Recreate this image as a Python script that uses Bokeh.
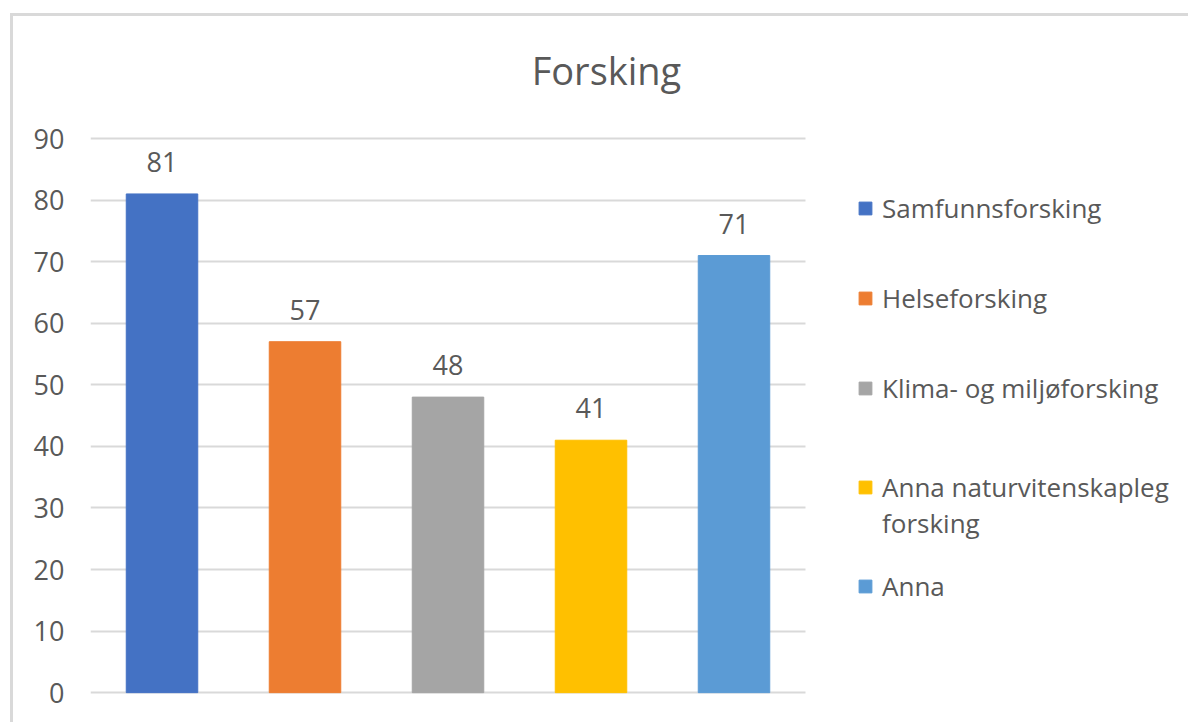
from bokeh.plotting import figure
from bokeh.models import ColumnDataSource, LabelSet, Label, Legend, LegendItem, Range1d, FixedTicker
from bokeh.core.properties import value
from bokeh.embed import file_html
from bokeh.resources import INLINE

categories = ["Samfunnsforsking", "Helseforsking", "Klima- og miljøforsking",
              "Anna naturvitenskapleg forsking", "Anna"]
legend_labels = ["Samfunnsforsking", "Helseforsking", "Klima- og miljøforsking",
                 "\nAnna naturvitenskapleg\nforsking", "Anna"]
values = [81, 57, 48, 41, 71]
colors = ["#4472C4", "#ED7D31", "#A5A5A5", "#FFC000", "#5B9BD5"]
y_ticks = [0, 10, 20, 30, 40, 50, 60, 70, 80, 90]
title_text = "Forsking"

FONT = "Open Sans"
GREY = "#595959"

positions = [i + 0.5 for i in range(len(categories))]
src = ColumnDataSource(dict(x=positions, cat=categories, val=values, color=colors,
                            lab=[str(v) for v in values]))

# frame spans page x 90..1188 (143 px per category) and y 0..694
p = figure(width=1188, height=722, x_range=Range1d(0, 1098 / 143),
           y_range=Range1d(-0.3, 112.42),
           output_backend="svg", toolbar_location=None, x_axis_location=None,
           min_border_left=90, min_border_right=0, min_border_top=0,
           min_border_bottom=28)
p.border_fill_color = None
p.background_fill_color = None
p.outline_line_color = None
p.styles = {"box-shadow": "inset 10px 13px 0 0 #ffffff, inset 13px 16px 0 0 #d9d9d9"}

r = p.vbar(x="x", top="val", width=0.5, color="color", source=src)

p.xgrid.grid_line_color = None
grid = p.ygrid[0]
if "cross_bounds" in grid.properties():
    grid.ticker = FixedTicker(ticks=y_ticks)
    grid.grid_line_color = "#d9d9d9"
    grid.grid_line_width = 2
    grid.cross_bounds = (0, len(categories))
else:
    grid.grid_line_color = None
    p.segment(x0=[0] * len(y_ticks), x1=[len(categories)] * len(y_ticks),
              y0=y_ticks, y1=y_ticks, line_color="#d9d9d9", line_width=2,
              level="underlay")

p.yaxis.ticker = FixedTicker(ticks=y_ticks)
p.yaxis.axis_line_color = None
p.yaxis.major_tick_line_color = None
p.yaxis.minor_tick_line_color = None
p.yaxis.major_tick_out = 0
p.yaxis.major_tick_in = 0
p.yaxis.major_label_standoff = 26
p.yaxis.major_label_text_font = FONT
p.yaxis.major_label_text_font_size = "27px"
p.yaxis.major_label_text_color = GREY

labels = LabelSet(x="x", y="val", text="lab", source=src, y_offset=22,
                  text_align="center", text_baseline="alphabetic",
                  text_font=value(FONT), text_font_size="27px", text_color=GREY)
p.add_layout(labels)

p.add_layout(Label(x=3.608, y=101.2, text=title_text, text_align="center",
                   text_baseline="alphabetic", text_font=FONT,
                   text_font_size="38px", text_color=GREY))

items = [LegendItem(label=c, renderers=[r], index=i) for i, c in enumerate(legend_labels)]
legend = Legend(items=items, location=(767, 63), orientation="vertical",
                padding=0, margin=0, border_line_color=None, background_fill_alpha=0,
                glyph_width=16, glyph_height=16, label_standoff=9,
                label_height=90, spacing=0,
                label_text_font=FONT, label_text_font_size="26px",
                label_text_line_height=1.2,
                label_text_color=GREY)
p.add_layout(legend)

open("out.html", "w").write(file_html(p, INLINE))
